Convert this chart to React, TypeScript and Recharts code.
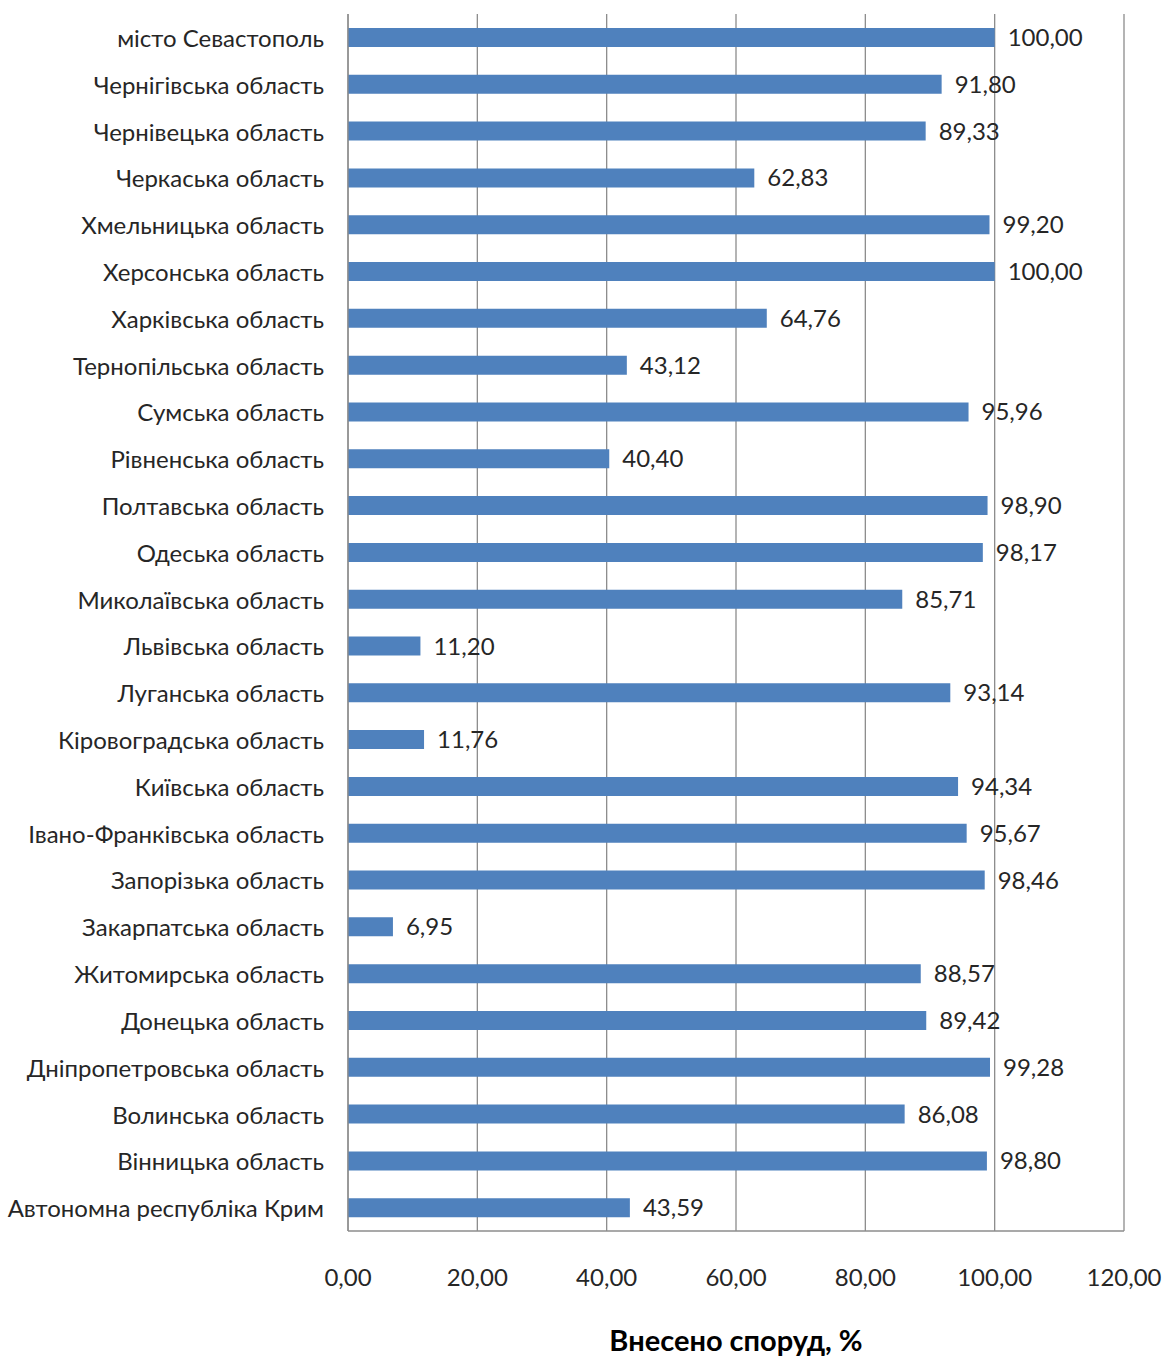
import { BarChart, Bar, XAxis, YAxis, CartesianGrid, LabelList, Label } from "recharts";

const regions = [
  "місто Севастополь",
  "Чернігівська область",
  "Чернівецька область",
  "Черкаська область",
  "Хмельницька область",
  "Херсонська область",
  "Харківська область",
  "Тернопільська область",
  "Сумська область",
  "Рівненська область",
  "Полтавська область",
  "Одеська область",
  "Миколаївська область",
  "Львівська область",
  "Луганська область",
  "Кіровоградська область",
  "Київська область",
  "Івано-Франківська область",
  "Запорізька область",
  "Закарпатська область",
  "Житомирська область",
  "Донецька область",
  "Дніпропетровська область",
  "Волинська область",
  "Вінницька область",
  "Автономна республіка Крим",
];

const percents = [
  100.0, 91.8, 89.33, 62.83, 99.2, 100.0, 64.76, 43.12, 95.96, 40.4, 98.9, 98.17, 85.71,
  11.2, 93.14, 11.76, 94.34, 95.67, 98.46, 6.95, 88.57, 89.42, 99.28, 86.08, 98.8, 43.59,
];

const xTicks = [0, 20, 40, 60, 80, 100, 120];

const data = regions.map((region, i) => ({ region, value: percents[i] }));

const fmt = (v: number) => v.toFixed(2).replace(".", ",");

const font = "Lato, 'Open Sans', sans-serif";
const textColor = "#262626";
const gridColor = "#8c8c8c";

export default function App() {
  return (
    <div style={{ position: "absolute", left: 0, top: 0, background: "#fff" }}>
      <BarChart
        width={1163}
        height={1356}
        data={data}
        layout="vertical"
        margin={{ top: 14, right: 39, left: 0, bottom: 0 }}
        barCategoryGap={0}
      >
        <CartesianGrid horizontal={false} vertical stroke={gridColor} strokeWidth={1.3} />
        <XAxis
          type="number"
          domain={[0, 120]}
          ticks={xTicks}
          tickFormatter={fmt}
          height={125}
          tickLine={false}
          tickMargin={32}
          axisLine={{ stroke: gridColor, strokeWidth: 1.3 }}
          tick={{ fill: textColor, fontSize: 24, fontFamily: font }}
        >
          <Label
            value="Внесено споруд, %"
            position="insideBottom"
            offset={5}
            style={{ fill: "#000", fontSize: 29, fontWeight: 700, fontFamily: font }}
          />
        </XAxis>
        <YAxis
          type="category"
          dataKey="region"
          width={348}
          interval={0}
          tickLine={false}
          tickMargin={18}
          axisLine={{ stroke: gridColor, strokeWidth: 1.3 }}
          tick={{ fill: textColor, fontSize: 24, fontFamily: font, dy: 1 }}
        />
        <Bar dataKey="value" fill="#4f81bd" barSize={19} isAnimationActive={false}>
          <LabelList
            dataKey="value"
            position="right"
            offset={13}
            formatter={(v: any) => fmt(Number(v))}
            style={{ fill: textColor, fontSize: 24, fontFamily: font }}
          />
        </Bar>
      </BarChart>
    </div>
  );
}
